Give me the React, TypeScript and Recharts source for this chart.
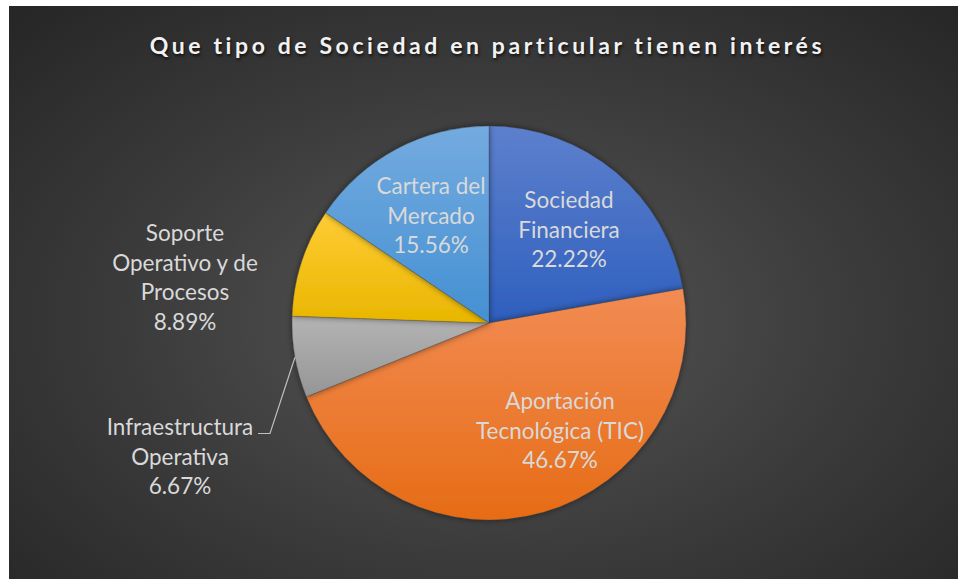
import React from 'react'
import { PieChart, Pie, Cell } from 'recharts'

const categories = ['Sociedad Financiera', 'Aportación Tecnológica (TIC)', 'Infraestructura Operativa', 'Soporte Operativo y de Procesos', 'Cartera del Mercado']
const labelLines = [
  ['Sociedad', 'Financiera'],
  ['Aportación', 'Tecnológica (TIC)'],
  ['Infraestructura', 'Operativa'],
  ['Soporte', 'Operativo y de', 'Procesos'],
  ['Cartera del', 'Mercado'],
]
// respuestas por tipo (45 en total)
const counts = [10, 21, 3, 4, 7]

const gradients = [
  ['#5d80cd', '#2e5fbd'],
  ['#f28c54', '#e66c15'],
  ['#b4b4b4', '#959595'],
  ['#ffcc35', '#e9b600'],
  ['#74abe0', '#4490d2'],
]

// label anchor offsets from pie centre
const labelPos = [
  { dx: 80, dy: -94 },
  { dx: 71, dy: 107 },
  { dx: -309, dy: 133 },
  { dx: -304, dy: -46 },
  { dx: -58, dy: -108 },
]

const data = categories.map((name, i) => ({ name, value: counts[i], lines: labelLines[i] }))

const RAD = Math.PI / 180
const LINE_H = 29.5

const renderLabel = (props: any) => {
  const { cx, cy, index, percent, midAngle, outerRadius } = props
  const pos = labelPos[index]
  const x = cx + pos.dx
  const y = cy + pos.dy
  const lines = [...data[index].lines, (percent * 100).toFixed(2) + '%']
  const top = y - ((lines.length - 1) * LINE_H) / 2
  let leader = null
  if (index === 2) {
    const ex = cx + outerRadius * Math.cos(-midAngle * RAD)
    const ey = cy + outerRadius * Math.sin(-midAngle * RAD)
    const ly = top + 7
    leader = <polyline points={`${ex},${ey} ${x + 90},${ly} ${x + 78},${ly}`} fill="none" stroke="#bfbfbf" strokeWidth={1.2} />
  }
  return (
    <g>
      {leader}
      {lines.map((t, i) => (
        <text key={i} x={x} y={top + i * LINE_H} textAnchor="middle" dominantBaseline="central" fill="#d9d9d9" style={{ fontSize: 22.5, fontFamily: 'Lato, sans-serif' }}>
          {t}
        </text>
      ))}
    </g>
  )
}

export default function App() {
  return (
    <div style={{ position: 'absolute', left: 9, top: 6, width: 949, height: 573, background: 'radial-gradient(ellipse 70% 75% at 51% 55%, #575757 0%, #3b3b3b 55%, #272727 100%)', overflow: 'hidden' }}>
      <style>{`body{margin:0;background:#fff}`}</style>
      <div style={{ position: 'absolute', left: 0, width: 949, top: 25, textAlign: 'center', color: '#f2f2f2', fontFamily: 'Lato, sans-serif', fontWeight: 'bold', fontSize: 23, letterSpacing: 3.6, textShadow: '1px 2px 3px rgba(0,0,0,0.7)', marginLeft: 4 }}>
        Que tipo de Sociedad en particular tienen interés
      </div>
      <PieChart width={949} height={573} margin={{ top: 0, right: 0, bottom: 0, left: 0 }} style={{ position: 'absolute', left: 0, top: 0 }}>
        <defs>
          {gradients.map((g, i) => (
            <linearGradient key={i} id={`slice${i}`} x1="0" y1="0" x2="0" y2="1">
              <stop offset="0%" stopColor={g[0]} />
              <stop offset="100%" stopColor={g[1]} />
            </linearGradient>
          ))}
          <filter id="pieShadow" x="-10%" y="-10%" width="120%" height="120%">
            <feDropShadow dx="0" dy="0" stdDeviation="3" floodColor="#000" floodOpacity="0.5" />
          </filter>
        </defs>
        <Pie
          data={data}
          dataKey="value"
          nameKey="name"
          cx={480}
          cy={317}
          outerRadius={197}
          startAngle={90}
          endAngle={-270}
          stroke="rgba(60,60,60,0.35)"
          strokeWidth={0.8}
          label={renderLabel}
          labelLine={false}
          isAnimationActive={false}
          style={{ filter: 'url(#pieShadow)' }}
        >
          {data.map((d, i) => (
            <Cell key={d.name} fill={`url(#slice${i})`} />
          ))}
        </Pie>
      </PieChart>
    </div>
  )
}
